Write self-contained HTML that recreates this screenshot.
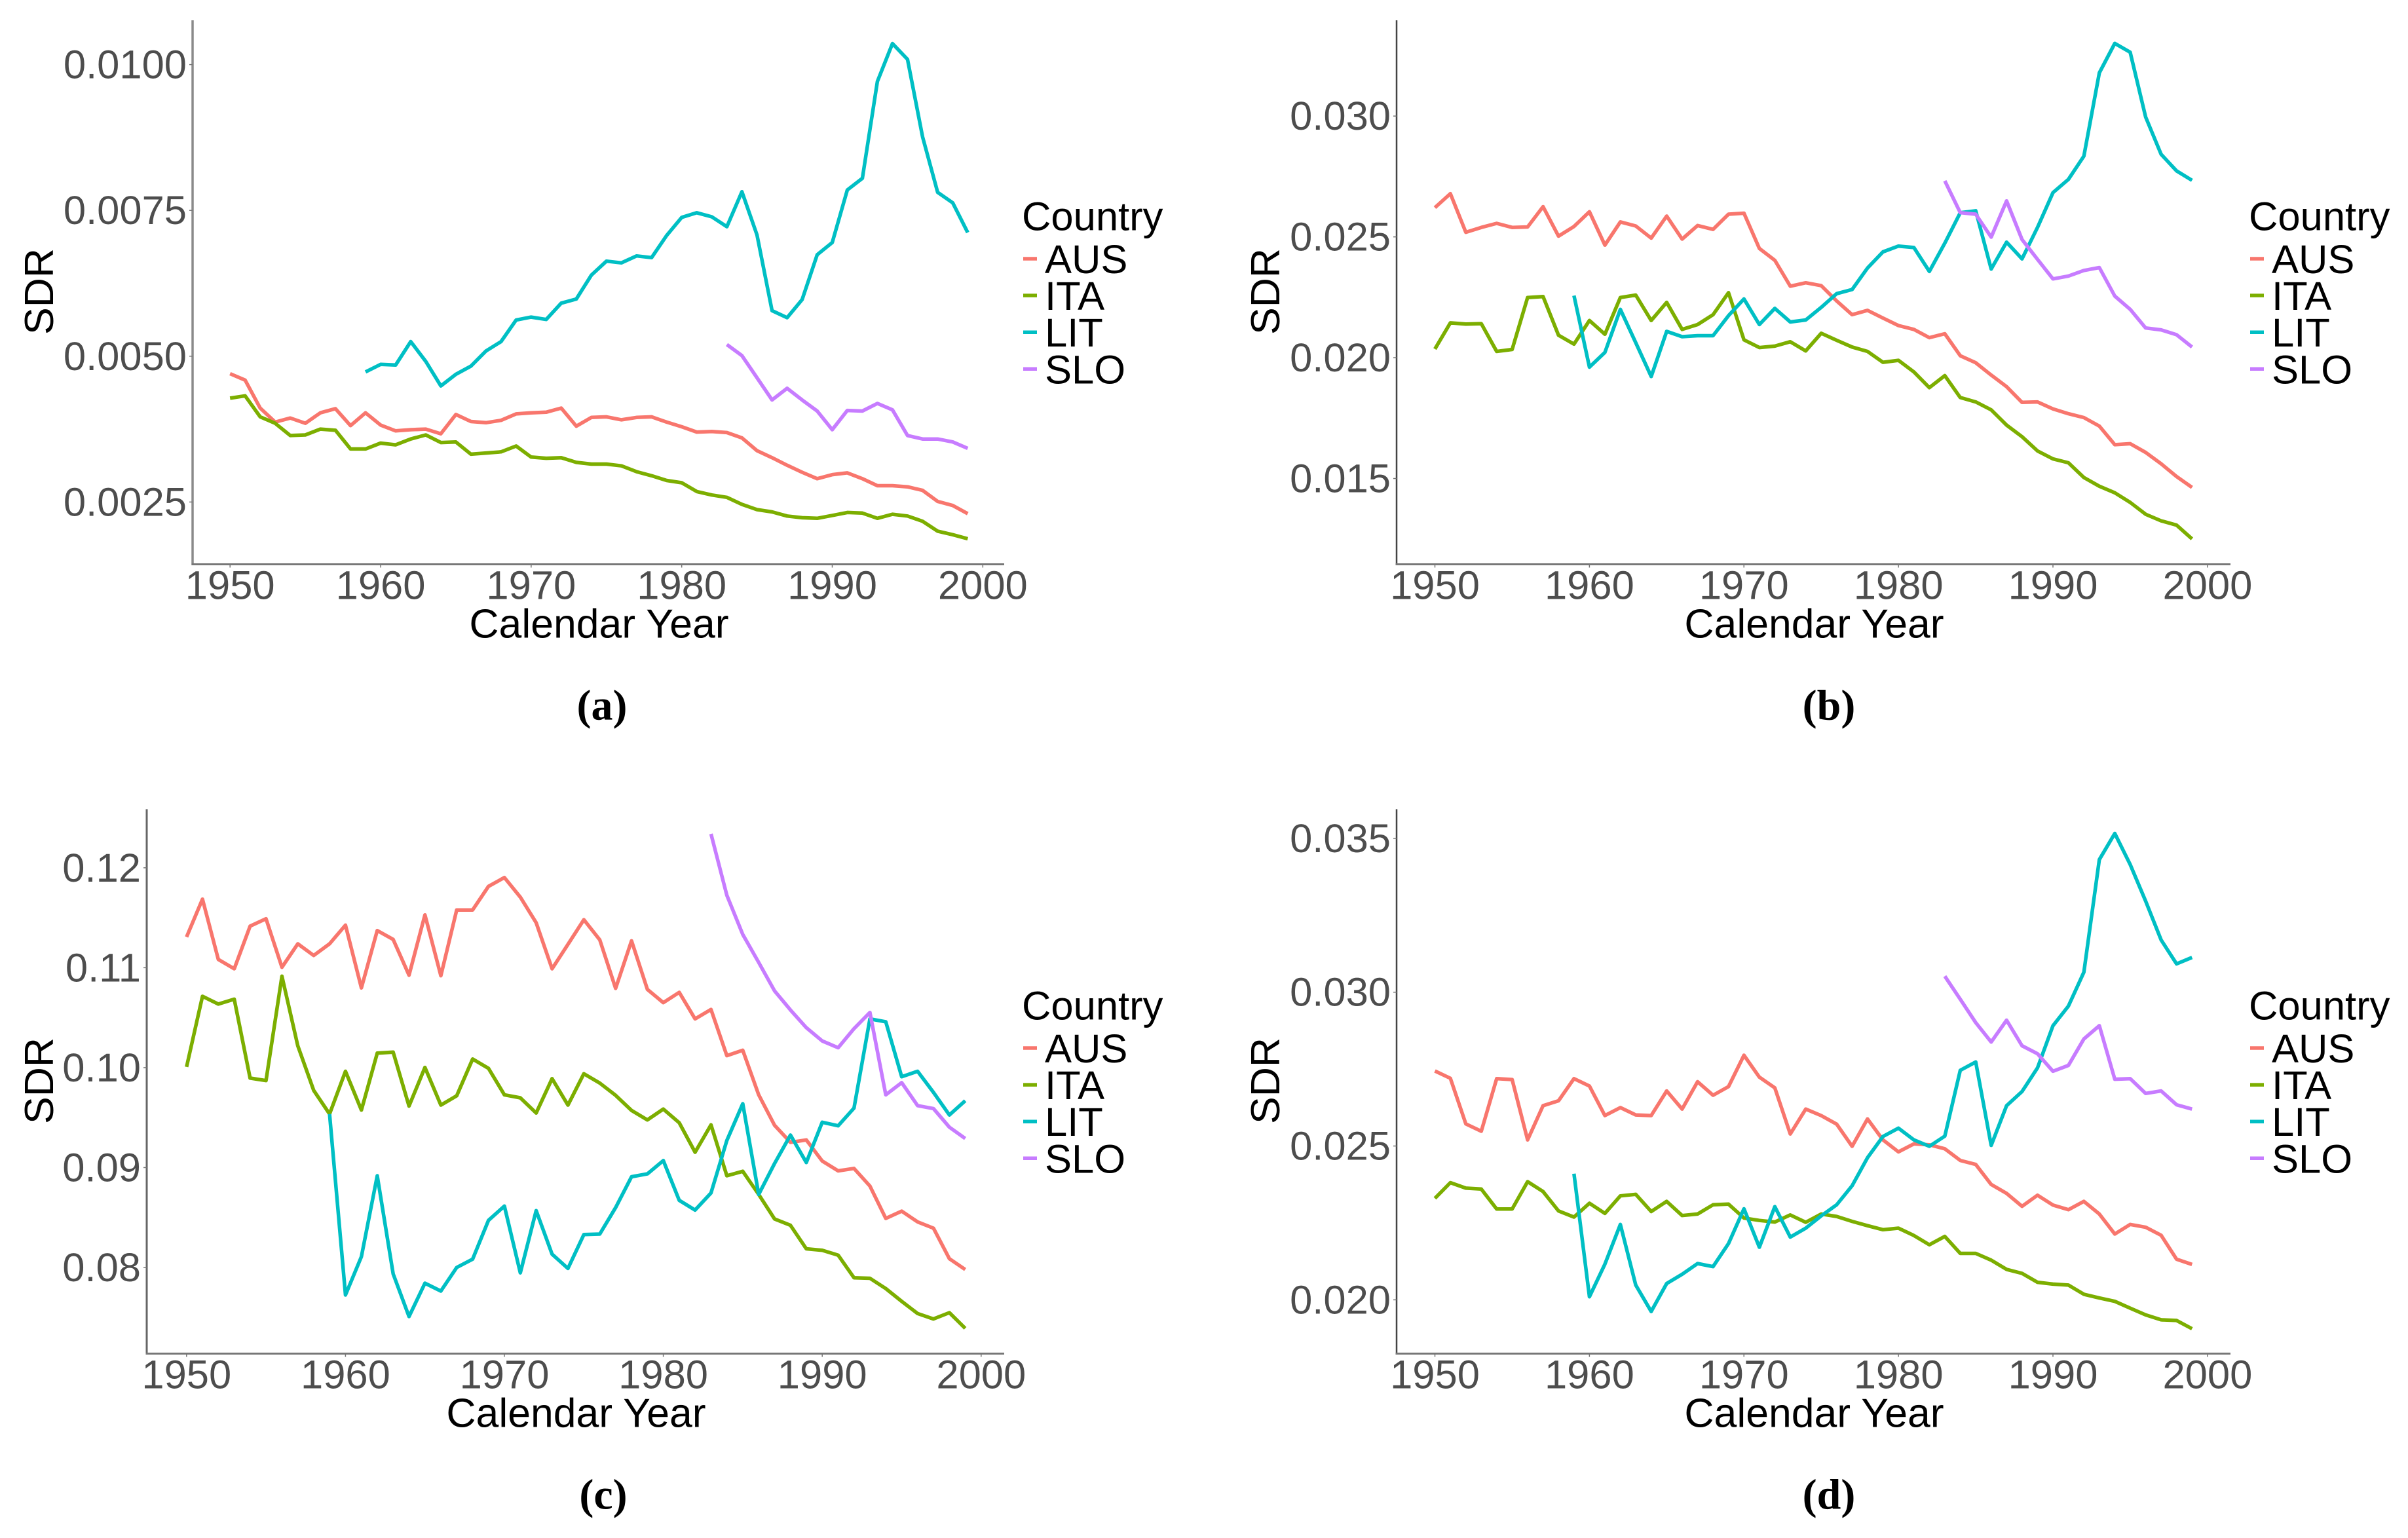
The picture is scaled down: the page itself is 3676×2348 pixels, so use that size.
<!DOCTYPE html>
<html lang="en">
<head>
<meta charset="utf-8">
<title>SDR by Calendar Year</title>
<style>
html,body{margin:0;padding:0;background:#fff;width:3676px;height:2348px;overflow:hidden}
svg{display:block;position:absolute;left:0;top:0}
text{font-family:"Liberation Sans",Arial,sans-serif;font-size:61.5px}
.tick{fill:#4d4d4d}
.title{fill:#000;font-size:62.5px}
.leg{fill:#000}
.cap{font-family:"Liberation Serif",serif;font-weight:bold;font-size:66px;fill:#000}
</style>
</head>
<body>
<svg id="figure" width="3676" height="2348" viewBox="0 0 3676 2348" xmlns="http://www.w3.org/2000/svg">
<rect width="3676" height="2348" fill="#fff"/>
</svg>
<script>
const years = [1950,1951,1952,1953,1954,1955,1956,1957,1958,1959,1960,1961,1962,1963,1964,1965,1966,1967,1968,1969,1970,1971,1972,1973,1974,1975,1976,1977,1978,1979,1980,1981,1982,1983,1984,1985,1986,1987,1988,1989,1990,1991,1992,1993,1994,1995,1996,1997,1998,1999];
const litYears = years.slice(9);
const sloYears = years.slice(33);
const xTicks = [1950,1960,1970,1980,1990,2000];
const countries = ['AUS','ITA','LIT','SLO'];
const countryColors = ['#F8766D','#7CAE00','#00BFC4','#C77CFF'];

const ausA = [0.00470,0.00459,0.00411,0.00387,0.00394,0.00385,0.00403,0.00410,0.00381,0.00403,0.00382,0.00372,0.00374,0.00375,0.00367,0.00400,0.00388,0.00386,0.00390,0.00401,0.00403,0.00404,0.00411,0.00380,0.00395,0.00396,0.00391,0.00395,0.00396,0.00387,0.00379,0.00370,0.00371,0.00369,0.00360,0.00338,0.00326,0.00313,0.00301,0.00290,0.00297,0.00300,0.00290,0.00278,0.00278,0.00276,0.00270,0.00251,0.00244,0.00230];
const itaA = [0.00428,0.00432,0.00396,0.00385,0.00364,0.00365,0.00375,0.00373,0.00341,0.00341,0.00351,0.00348,0.00358,0.00365,0.00352,0.00353,0.00332,0.00334,0.00336,0.00346,0.00327,0.00325,0.00326,0.00318,0.00315,0.00315,0.00312,0.00302,0.00295,0.00287,0.00283,0.00268,0.00262,0.00258,0.00246,0.00237,0.00233,0.00226,0.00223,0.00222,0.00227,0.00232,0.00231,0.00222,0.00229,0.00226,0.00217,0.00200,0.00194,0.00187];
const litA = [0.00473,0.00486,0.00485,0.00525,0.00491,0.00449,0.00469,0.00483,0.00509,0.00525,0.00562,0.00567,0.00563,0.00591,0.00598,0.00639,0.00663,0.00660,0.00672,0.00669,0.00707,0.00738,0.00746,0.00739,0.00722,0.00782,0.00708,0.00578,0.00566,0.00597,0.00674,0.00695,0.00785,0.00805,0.00971,0.01036,0.01009,0.00876,0.00781,0.00763,0.00712];
const sloA = [0.00520,0.00501,0.00463,0.00425,0.00445,0.00425,0.00406,0.00374,0.00407,0.00406,0.00419,0.00408,0.00364,0.00358,0.00358,0.00353,0.00342];

const ausB = [0.02621,0.02679,0.02519,0.02539,0.02556,0.02539,0.02541,0.02625,0.02503,0.02543,0.02604,0.02466,0.02562,0.02545,0.02495,0.02586,0.02491,0.02547,0.02531,0.02594,0.02598,0.02452,0.02403,0.02296,0.02310,0.02298,0.02235,0.02178,0.02196,0.02164,0.02133,0.02117,0.02083,0.02099,0.02008,0.01979,0.01928,0.01880,0.01815,0.01817,0.01788,0.01768,0.01752,0.01717,0.01640,0.01644,0.01608,0.01561,0.01508,0.01463];
const itaB = [0.02036,0.02144,0.02139,0.02141,0.02026,0.02034,0.02249,0.02253,0.02093,0.02056,0.02154,0.02097,0.02249,0.02259,0.02154,0.02229,0.02117,0.02137,0.02178,0.02269,0.02074,0.02042,0.02048,0.02066,0.02028,0.02101,0.02072,0.02044,0.02026,0.01981,0.01989,0.01941,0.01876,0.01926,0.01835,0.01817,0.01784,0.01721,0.01673,0.01614,0.01581,0.01565,0.01504,0.01468,0.01441,0.01401,0.01352,0.01325,0.01307,0.01250];
const litB = [0.02257,0.01961,0.02022,0.02200,0.02062,0.01922,0.02109,0.02087,0.02091,0.02091,0.02174,0.02243,0.02137,0.02204,0.02148,0.02156,0.02208,0.02265,0.02282,0.02371,0.02438,0.02462,0.02456,0.02357,0.02474,0.02600,0.02608,0.02367,0.02478,0.02409,0.02539,0.02683,0.02738,0.02834,0.03179,0.03301,0.03264,0.02996,0.02842,0.02773,0.02734];
const sloB = [0.02732,0.02600,0.02594,0.02499,0.02649,0.02489,0.02407,0.02326,0.02338,0.02361,0.02373,0.02255,0.02200,0.02123,0.02115,0.02095,0.02044];

const ausC = [0.11308,0.11686,0.11082,0.10989,0.11416,0.11490,0.11004,0.11239,0.11122,0.11239,0.11426,0.10798,0.11372,0.11283,0.10925,0.11529,0.10920,0.11578,0.11578,0.11814,0.11902,0.11706,0.11450,0.10989,0.11234,0.11480,0.11279,0.10793,0.11269,0.10783,0.10650,0.10753,0.10488,0.10582,0.10120,0.10174,0.09728,0.09423,0.09252,0.09276,0.09065,0.08967,0.08991,0.08815,0.08491,0.08564,0.08456,0.08393,0.08088,0.07980];
const itaC = [0.10007,0.10714,0.10636,0.10685,0.09895,0.09870,0.10915,0.10218,0.09772,0.09536,0.09963,0.09575,0.10145,0.10155,0.09615,0.10002,0.09625,0.09718,0.10086,0.09993,0.09728,0.09698,0.09546,0.09890,0.09625,0.09939,0.09845,0.09723,0.09571,0.09477,0.09585,0.09448,0.09153,0.09428,0.08918,0.08962,0.08731,0.08486,0.08422,0.08187,0.08172,0.08123,0.07897,0.07892,0.07789,0.07661,0.07539,0.07485,0.07548,0.07391];
const litC = [0.09536,0.07725,0.08108,0.08918,0.07936,0.07509,0.07843,0.07764,0.08000,0.08083,0.08471,0.08614,0.07946,0.08569,0.08133,0.07990,0.08329,0.08334,0.08599,0.08908,0.08937,0.09070,0.08672,0.08574,0.08746,0.09271,0.09639,0.08731,0.09040,0.09325,0.09050,0.09453,0.09418,0.09595,0.10488,0.10459,0.09909,0.09963,0.09752,0.09526,0.09669];
const sloC = [0.12339,0.11725,0.11333,0.11053,0.10768,0.10577,0.10400,0.10267,0.10199,0.10390,0.10552,0.09728,0.09850,0.09620,0.09590,0.09404,0.09291];

const ausD = [0.02744,0.02720,0.02572,0.02548,0.02719,0.02716,0.02520,0.02631,0.02647,0.02719,0.02695,0.02599,0.02625,0.02601,0.02599,0.02679,0.02620,0.02709,0.02665,0.02693,0.02795,0.02724,0.02689,0.02539,0.02620,0.02599,0.02571,0.02499,0.02588,0.02520,0.02481,0.02507,0.02504,0.02491,0.02453,0.02440,0.02375,0.02346,0.02304,0.02340,0.02308,0.02293,0.02320,0.02279,0.02214,0.02245,0.02236,0.02210,0.02132,0.02115];
const itaD = [0.02330,0.02381,0.02363,0.02360,0.02295,0.02295,0.02384,0.02352,0.02289,0.02269,0.02314,0.02281,0.02338,0.02343,0.02287,0.02320,0.02274,0.02279,0.02309,0.02311,0.02266,0.02258,0.02253,0.02276,0.02252,0.02279,0.02271,0.02255,0.02241,0.02228,0.02233,0.02209,0.02179,0.02206,0.02151,0.02151,0.02129,0.02099,0.02086,0.02057,0.02051,0.02048,0.02018,0.02006,0.01995,0.01973,0.01951,0.01935,0.01933,0.01906];
const litD = [0.02410,0.02010,0.02116,0.02245,0.02048,0.01962,0.02053,0.02083,0.02118,0.02108,0.02183,0.02296,0.02171,0.02303,0.02204,0.02233,0.02273,0.02309,0.02371,0.02462,0.02531,0.02558,0.02520,0.02499,0.02532,0.02746,0.02773,0.02502,0.02631,0.02677,0.02754,0.02891,0.02955,0.03065,0.03431,0.03516,0.03415,0.03296,0.03170,0.03092,0.03113];
const sloD = [0.03052,0.02977,0.02901,0.02838,0.02909,0.02826,0.02800,0.02743,0.02762,0.02848,0.02891,0.02717,0.02719,0.02671,0.02679,0.02634,0.02620];

const yTicksA = [0.0025,0.0050,0.0075,0.0100];
const yLabelsA = ['0.0025','0.0050','0.0075','0.0100'];
const yTicksB = [0.015,0.020,0.025,0.030];
const yLabelsB = ['0.015','0.020','0.025','0.030'];
const yTicksC = [0.08,0.09,0.10,0.11,0.12];
const yLabelsC = ['0.08','0.09','0.10','0.11','0.12'];
const yTicksD = [0.020,0.025,0.030,0.035];
const yLabelsD = ['0.020','0.025','0.030','0.035'];

const SVGNS = 'http://www.w3.org/2000/svg';
const fig = document.getElementById('figure');

function make(tag, parent, props, content) {
  const el = document.createElementNS(SVGNS, tag);
  for (const k in props) el.setAttribute(k, props[k]);
  if (content !== undefined) el.textContent = content;
  parent.appendChild(el);
  return el;
}

function linearScale(d0, d1, r0, r1) {
  return function (v) { return r0 + (v - d0) / (d1 - d0) * (r1 - r0); };
}

function drawPanel(p) {
  const g = make('g', fig, {});
  
  

  const xScale = linearScale(1950, 1990, p.x1950, p.x1990);
  const yScale = linearScale(p.yLow, p.yHigh, p.pxLow, p.pxHigh);

  const yAxis = make('line', g, {x1: p.left, y1: p.top, x2: p.left, y2: p.bottom + 1.5, stroke: p.yAxisColor, 'stroke-width': p.yAxisWidth});
  
  
  const xAxis = make('line', g, {x1: p.left - 1.5, y1: p.bottom, x2: p.right, y2: p.bottom, stroke: '#777', 'stroke-width': 3});
  
  

  xTicks.forEach(function (t) {
    const x = xScale(t);
    const tick = make('line', g, {x1: x, y1: p.bottom, x2: x, y2: p.bottom + 5, stroke: '#777', 'stroke-width': 1.5});
    
    
    const label = make('text', g, {x: x, y: p.bottom + 53, 'text-anchor': 'middle', class: 'tick'}, String(t));
    
    
  });

  p.yTicks.forEach(function (t, i) {
    const y = yScale(t);
    const tick = make('line', g, {x1: p.left - 5, y1: y, x2: p.left, y2: y, stroke: '#777', 'stroke-width': 1.5});
    
    
    const label = make('text', g, {x: p.left - 9, y: y + 21, 'text-anchor': 'end', class: 'tick'}, p.yLabels[i]);
    
    
  });

  const xTitle = make('text', g, {x: (p.left + p.right) / 2 + 1, y: p.bottom + 112, 'text-anchor': 'middle', class: 'title'}, 'Calendar Year');
  
  

  const yTitle = make('text', g, {x: p.yTitleX, y: p.yTitleY, 'text-anchor': 'middle', class: 'title', transform: 'rotate(-90 ' + p.yTitleX + ' ' + p.yTitleY + ')'}, 'SDR');
  
  

  p.series.forEach(function (s, i) {
    let d = '';
    s.values.forEach(function (v, j) {
      d += (j ? 'L' : 'M') + xScale(s.years[j]).toFixed(1) + ' ' + yScale(v).toFixed(1);
    });
    const path = make('path', g, {d: d, fill: 'none', stroke: countryColors[i], 'stroke-width': 5.5, 'stroke-linejoin': 'round'});
    
    
  });

  const legendTitle = make('text', g, {x: p.legendX, y: p.bottom - 510, class: 'leg'}, 'Country');
  
  
  countries.forEach(function (c, i) {
    const rowY = p.bottom - 466.5 + i * 56.1;
    const key = make('line', g, {x1: p.legendX + 2, y1: rowY, x2: p.legendX + 23, y2: rowY, stroke: countryColors[i], 'stroke-width': 5.5});
    
    
    const txt = make('text', g, {x: p.legendX + 35, y: rowY + 22, class: 'leg'}, c);
    
    
  });

  const cap = make('text', g, {x: p.capX, y: p.bottom + 237, 'text-anchor': 'middle', class: 'cap'}, '(' + p.id + ')');
  
  
}

function seriesOf(aus, ita, lit, slo) {
  return [
    {years: years, values: aus},
    {years: years, values: ita},
    {years: litYears, values: lit},
    {years: sloYears, values: slo}
  ];
}

drawPanel({id: 'a', left: 294, right: 1533, top: 31, bottom: 861.5, x1950: 351.2, x1990: 1270.5,
  yLow: 0.0025, yHigh: 0.0100, pxLow: 766.4, pxHigh: 98.6, yTicks: yTicksA, yLabels: yLabelsA,
  yAxisColor: '#8a8a8a', yAxisWidth: 3.5, yTitleX: 81, yTitleY: 445, legendX: 1560, capX: 919,
  series: seriesOf(ausA, itaA, litA, sloA)});

drawPanel({id: 'b', left: 2132, right: 3405, top: 31, bottom: 861.5, x1950: 2190.5, x1990: 3134,
  yLow: 0.015, yHigh: 0.030, pxLow: 730.5, pxHigh: 177.2, yTicks: yTicksB, yLabels: yLabelsB,
  yAxisColor: '#444', yAxisWidth: 2.5, yTitleX: 1953, yTitleY: 445, legendX: 3433, capX: 2792,
  series: seriesOf(ausB, itaB, litB, sloB)});

drawPanel({id: 'c', left: 224, right: 1533, top: 1235.4, bottom: 2066.5, x1950: 284.8, x1990: 1255.2,
  yLow: 0.08, yHigh: 0.12, pxLow: 1935, pxHigh: 1324.8, yTicks: yTicksC, yLabels: yLabelsC,
  yAxisColor: '#666', yAxisWidth: 3, yTitleX: 81, yTitleY: 1650, legendX: 1560, capX: 921,
  series: seriesOf(ausC, itaC, litC, sloC)});

drawPanel({id: 'd', left: 2132, right: 3405, top: 1235.4, bottom: 2066.5, x1950: 2190.5, x1990: 3134,
  yLow: 0.020, yHigh: 0.035, pxLow: 1984.4, pxHigh: 1279.9, yTicks: yTicksD, yLabels: yLabelsD,
  yAxisColor: '#444', yAxisWidth: 2.5, yTitleX: 1953, yTitleY: 1650, legendX: 3433, capX: 2792,
  series: seriesOf(ausD, itaD, litD, sloD)});
</script>
</body>
</html>
